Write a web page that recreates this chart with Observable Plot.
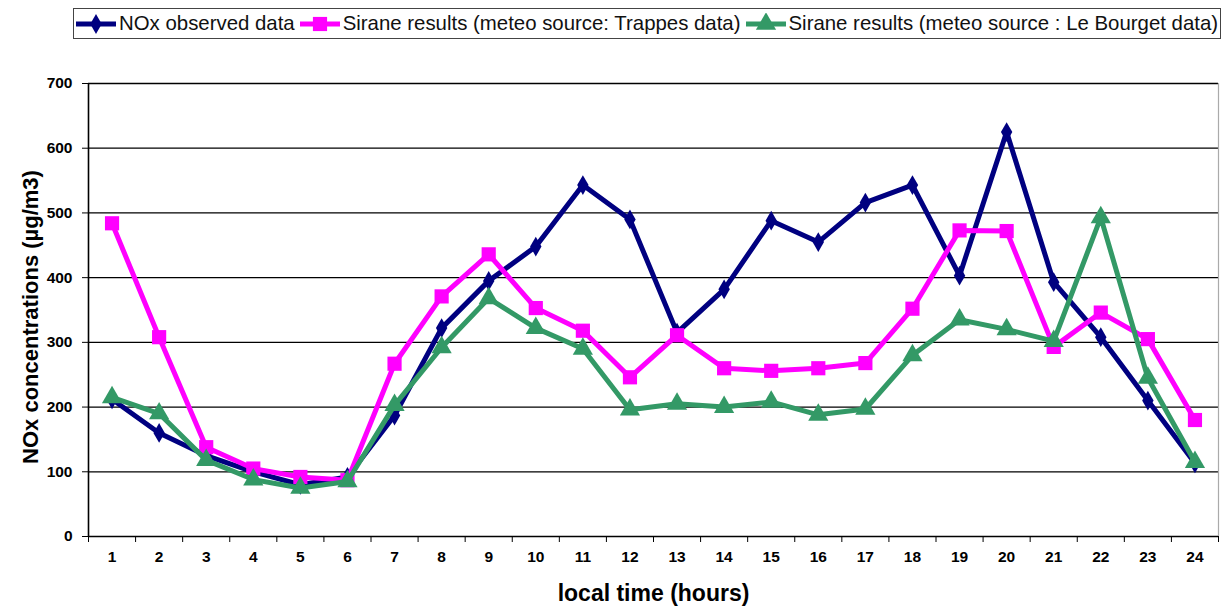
<!DOCTYPE html>
<html>
<head>
<meta charset="utf-8">
<script src="https://cdn.jsdelivr.net/npm/d3@7"></script>
<script src="https://cdn.jsdelivr.net/npm/@observablehq/plot@0.6"></script>
<style>
  html, body { margin: 0; padding: 0; background: #fff; }
  body { width: 1228px; height: 606px; position: relative; overflow: hidden; font-family: "Liberation Sans", Arial, sans-serif; }
  #legend { position: relative; height: 47px; }
  #legendBox { position: absolute; left: 73px; top: 8px; width: 1146px; height: 29px; border: 1.5px solid #444;
    display: flex; align-items: center; font-size: 20.4px; color: #111; white-space: nowrap; }
  .item { display: flex; align-items: center; margin-right: 3px; }
  .item svg { display: block; margin-right: 1px; }
</style>
</head>
<body>
<div id="legend"><div id="legendBox"></div></div>
<div id="chart"></div>
<script>
const hours = [1,2,3,4,5,6,7,8,9,10,11,12,13,14,15,16,17,18,19,20,21,22,23,24];
const observed = [212,160,125,100,80,92,187,322,395,448,543,490,315,382,488,455,516,543,403,625,393,308,210,113];
const trappes = [484,308,138,105,92,87,267,371,436,353,318,246,311,260,256,260,268,352,473,472,293,346,305,180];
const bourget = [215,190,118,88,75,85,203,292,368,322,290,196,205,200,208,188,197,280,335,320,302,493,245,115];
const yTicks = [0,100,200,300,400,500,600,700];
const seriesNames = ["NOx observed data", "Sirane results (meteo source: Trappes data)", "Sirane results (meteo source : Le Bourget data)"];
const seriesColors = ["#000080", "#FF00FF", "#339966"];
const seriesSymbols = ["diamond", "square", "triangle"];
const yTitle = "NOx concentrations (µg/m3)";
const xTitle = "local time (hours)";

const seriesValues = [observed, trappes, bourget];
const rows = [];
seriesNames.forEach((name, s) => hours.forEach((h, i) => rows.push({series: name, hour: h, value: seriesValues[s][i]})));
const bounds = d3.range(0.5, 25, 1);

const font = "'Liberation Sans', Arial, sans-serif";
const sizes = [6, 8, 7.5];

const marks = [
  Plot.ruleY(yTicks.filter(d => d > 0), {stroke: "#000", strokeWidth: 1.3}),
  Plot.ruleX([24.5], {stroke: "#aaa", strokeWidth: 1.2}),
  Plot.ruleX([0.5], {stroke: "#000", strokeWidth: 1.6}),
  Plot.ruleY([0], {stroke: "#000", strokeWidth: 1.6}),
  Plot.axisY({ticks: yTicks, tickSize: 6, tickFormat: () => "", label: null, stroke: "#000"}),
  Plot.axisX({ticks: bounds, tickSize: 6, tickFormat: () => "", label: null, stroke: "#000"}),
  Plot.text(yTicks, {x: 0.5, y: d => d, dx: -16, textAnchor: "end", lineAnchor: "middle", fontSize: 15.5, fontWeight: "bold", fill: "#000"}),
  Plot.text(hours, {x: d => d, y: 0, dy: 21, textAnchor: "middle", lineAnchor: "middle", fontSize: 15.5, fontWeight: "bold", fill: "#000"}),
];
seriesNames.forEach((name, s) => {
  const data = rows.filter(r => r.series === name);
  marks.push(Plot.line(data, {x: "hour", y: "value", stroke: seriesColors[s], strokeWidth: 5, strokeLinejoin: "miter"}));
  marks.push(Plot.dot(data, {x: "hour", y: "value", symbol: seriesSymbols[s], fill: seriesColors[s], stroke: "none", r: sizes[s]}));
});
marks.push(Plot.text([yTitle], {frameAnchor: "left", dx: -58, dy: 7, rotate: -90, textAnchor: "middle", lineAnchor: "middle", fontSize: 22, fontWeight: "bold", fill: "#000"}));
marks.push(Plot.text([xTitle], {frameAnchor: "bottom", dy: 57, textAnchor: "middle", lineAnchor: "middle", fontSize: 23, fontWeight: "bold", fill: "#000"}));

const chart = Plot.plot({
  width: 1228,
  height: 559,
  marginLeft: 88,
  marginRight: 10,
  marginTop: 36,
  marginBottom: 70,
  style: {fontFamily: font, color: "#000", background: "#fff"},
  x: {type: "linear", domain: [0.5, 24.5]},
  y: {type: "linear", domain: [0, 700]},
  marks
});
document.getElementById("chart").appendChild(chart);

// legend
const box = document.getElementById("legendBox");
seriesNames.forEach((name, s) => {
  const item = document.createElement("div");
  item.className = "item";
  const sym = d3.symbol().type(s === 0 ? d3.symbolDiamond : s === 1 ? d3.symbolSquare : d3.symbolTriangle)
    .size(Math.PI * sizes[s] * sizes[s])();
  item.innerHTML = `<svg width="44" height="22"><line x1="2" x2="42" y1="11" y2="11" stroke="${seriesColors[s]}" stroke-width="5"/>` +
    `<path d="${sym}" transform="translate(22,11)" fill="${seriesColors[s]}"/></svg><span>${name}</span>`;
  box.appendChild(item);
});
</script>
</body>
</html>
